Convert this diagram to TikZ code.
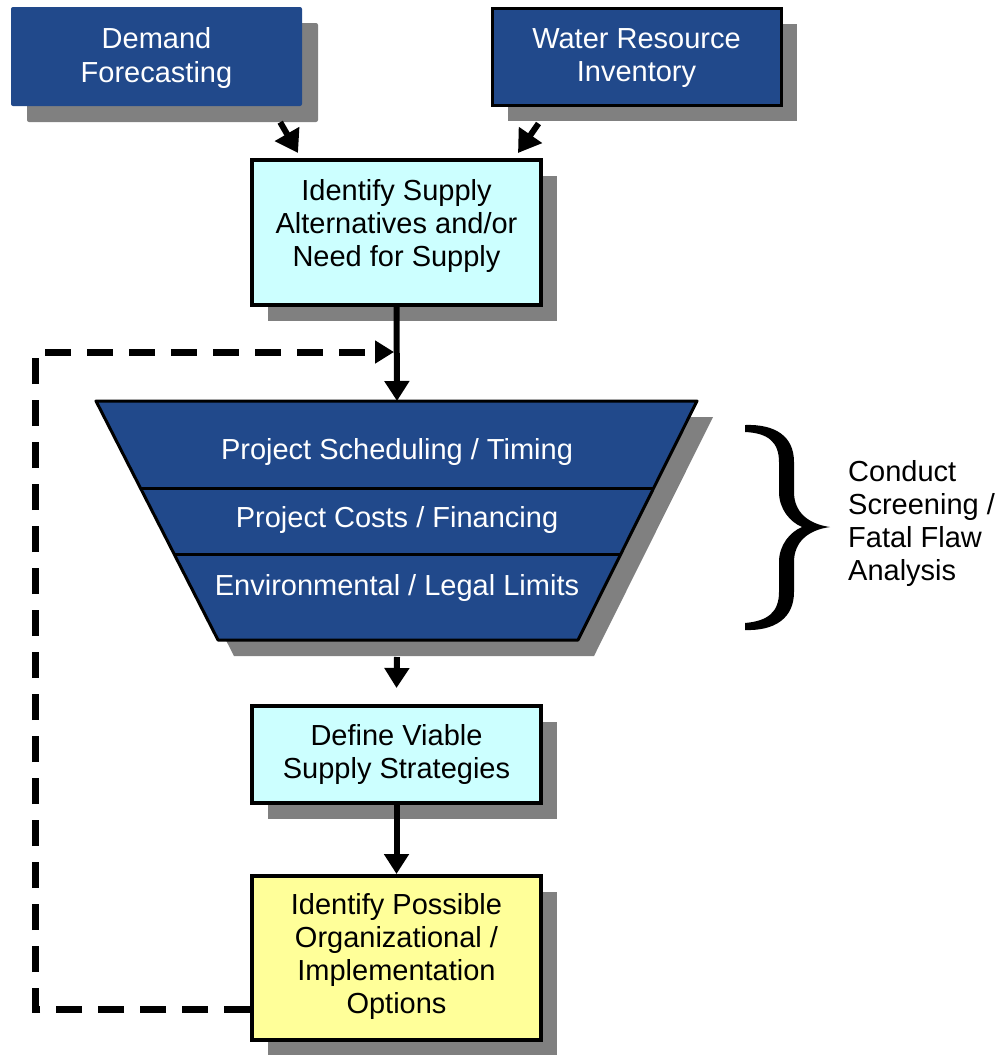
\documentclass[tikz,border=0pt]{standalone}
\usepackage{fontspec}
\setmainfont{Liberation Sans}
\usetikzlibrary{arrows.meta,calc,shadows}
\definecolor{dblue}{RGB}{33,73,139}
\definecolor{lcyan}{RGB}{204,255,255}
\definecolor{lyellow}{RGB}{255,255,153}
\definecolor{sgray}{RGB}{128,128,128}
\begin{document}
\begin{tikzpicture}[x=1pt,y=-1pt,
  boxtext/.style={align=center, font=\fontsize{29}{33}\selectfont, inner sep=0pt},
  sh/.style={drop shadow={shadow xshift=16pt, shadow yshift=-16pt, fill=sgray, opacity=1}},
  bluebox/.style={sh, fill=dblue},
  lightbox/.style={sh, draw=black, line width=4pt},
  bigarrow/.style={line width=6pt, -{Triangle[length=22pt,width=27pt]}},
  midarrow/.style={line width=6pt, -{Triangle[length=20pt,width=24pt]}},
  loopline/.style={line width=7pt, dash pattern=on 26pt off 16pt, -{Triangle[length=19pt,width=22pt]}},
  whitetext/.style={boxtext, text=white}
]
\useasboundingbox (0,0) rectangle (1000,1055);

% boxes
\node[bluebox, minimum width=291pt, minimum height=99pt, rounded corners=2pt] (demand) at (156.5,56.5) {};
\node[whitetext] (demandtext) at (156.5,58) {Demand\\Forecasting};
\node[bluebox, draw=black, line width=3pt, minimum width=289pt, minimum height=97pt] (water) at (636.5,56.5) {};
\node[whitetext] (watertext) at (636.5,58) {Water Resource\\Inventory};
\node[lightbox, fill=lcyan, minimum width=289pt, minimum height=145pt] (supply) at (396.5,232.5) {};
\node[boxtext] (supplytext) at (396.5,226) {Identify Supply\\Alternatives and/or\\Need for Supply};
\node[lightbox, fill=lcyan, minimum width=289pt, minimum height=97pt] (define) at (396.5,754.5) {};
\node[boxtext] (definetext) at (396.5,754) {Define Viable\\Supply Strategies};
\node[lightbox, fill=lyellow, minimum width=289pt, minimum height=164pt] (options) at (396.5,958) {};
\node[boxtext] (optionstext) at (396.5,956) {Identify Possible\\Organizational /\\Implementation\\Options};

% funnel
\coordinate (tl) at (96,401);
\coordinate (tr) at (697,401);
\coordinate (br) at (578,640);
\coordinate (bl) at (218,640);
\coordinate (funneltop) at (397,401);
\coordinate (funnelbot) at (397,640);
\fill[sgray] ($(tl)+(16,16)$) -- ($(tr)+(16,16)$) -- ($(br)+(16,16)$) -- ($(bl)+(16,16)$) -- cycle;
\draw[fill=dblue, line width=3pt, line join=round] (tl) -- (tr) -- (br) -- (bl) -- cycle;
\draw[line width=3pt] ($(tl)!0.368!(bl)$) -- ($(tr)!0.368!(br)$);
\draw[line width=3pt] ($(tl)!0.644!(bl)$) -- ($(tr)!0.644!(br)$);
\node[whitetext] (f1) at (397,452) {Project Scheduling / Timing};
\node[whitetext] (f2) at (397,520) {Project Costs / Financing};
\node[whitetext] (f3) at (397,588) {Environmental / Legal Limits};

% brace
\fill[black] (745,425) .. controls (775,424) and (794,436) .. (794,462)
  -- (794,492) .. controls (794,512) and (808,524) .. (830,527)
  .. controls (808,530) and (794,542) .. (794,562)
  -- (794,592) .. controls (794,618) and (775,631) .. (745,630)
  -- (745,623) .. controls (768,621) and (779,612) .. (779,592)
  -- (779,562) .. controls (779,545) and (790,532) .. (802,527)
  .. controls (790,522) and (779,509) .. (779,492)
  -- (779,462) .. controls (779,442) and (768,433) .. (745,432) -- cycle;
\node[boxtext, align=left, anchor=west] (screen) at (848,523) {Conduct\\Screening /\\Fatal Flaw\\Analysis};

% connectors
\coordinate (loopcorner) at (35,352);
\coordinate (looptip) at (394,352);
\draw[loopline] ($(options.south west)+(0,-33)$) -| (loopcorner) -- (looptip);
\draw[bigarrow] ($(demand.south east)+(-22,16)$) -- ($(supply.north west)+(48,-5)$);
\draw[bigarrow] ($(water.south west)+(48,17)$) -- ($(supply.north east)+(-25,-5)$);
\draw[midarrow] (supply.south) -- (funneltop);
\draw[midarrow] ($(funnelbot)+(0,17)$) -- ($(define.north)+(0,-16)$);
\draw[midarrow] (define.south) -- (options.north);
\end{tikzpicture}
\end{document}
